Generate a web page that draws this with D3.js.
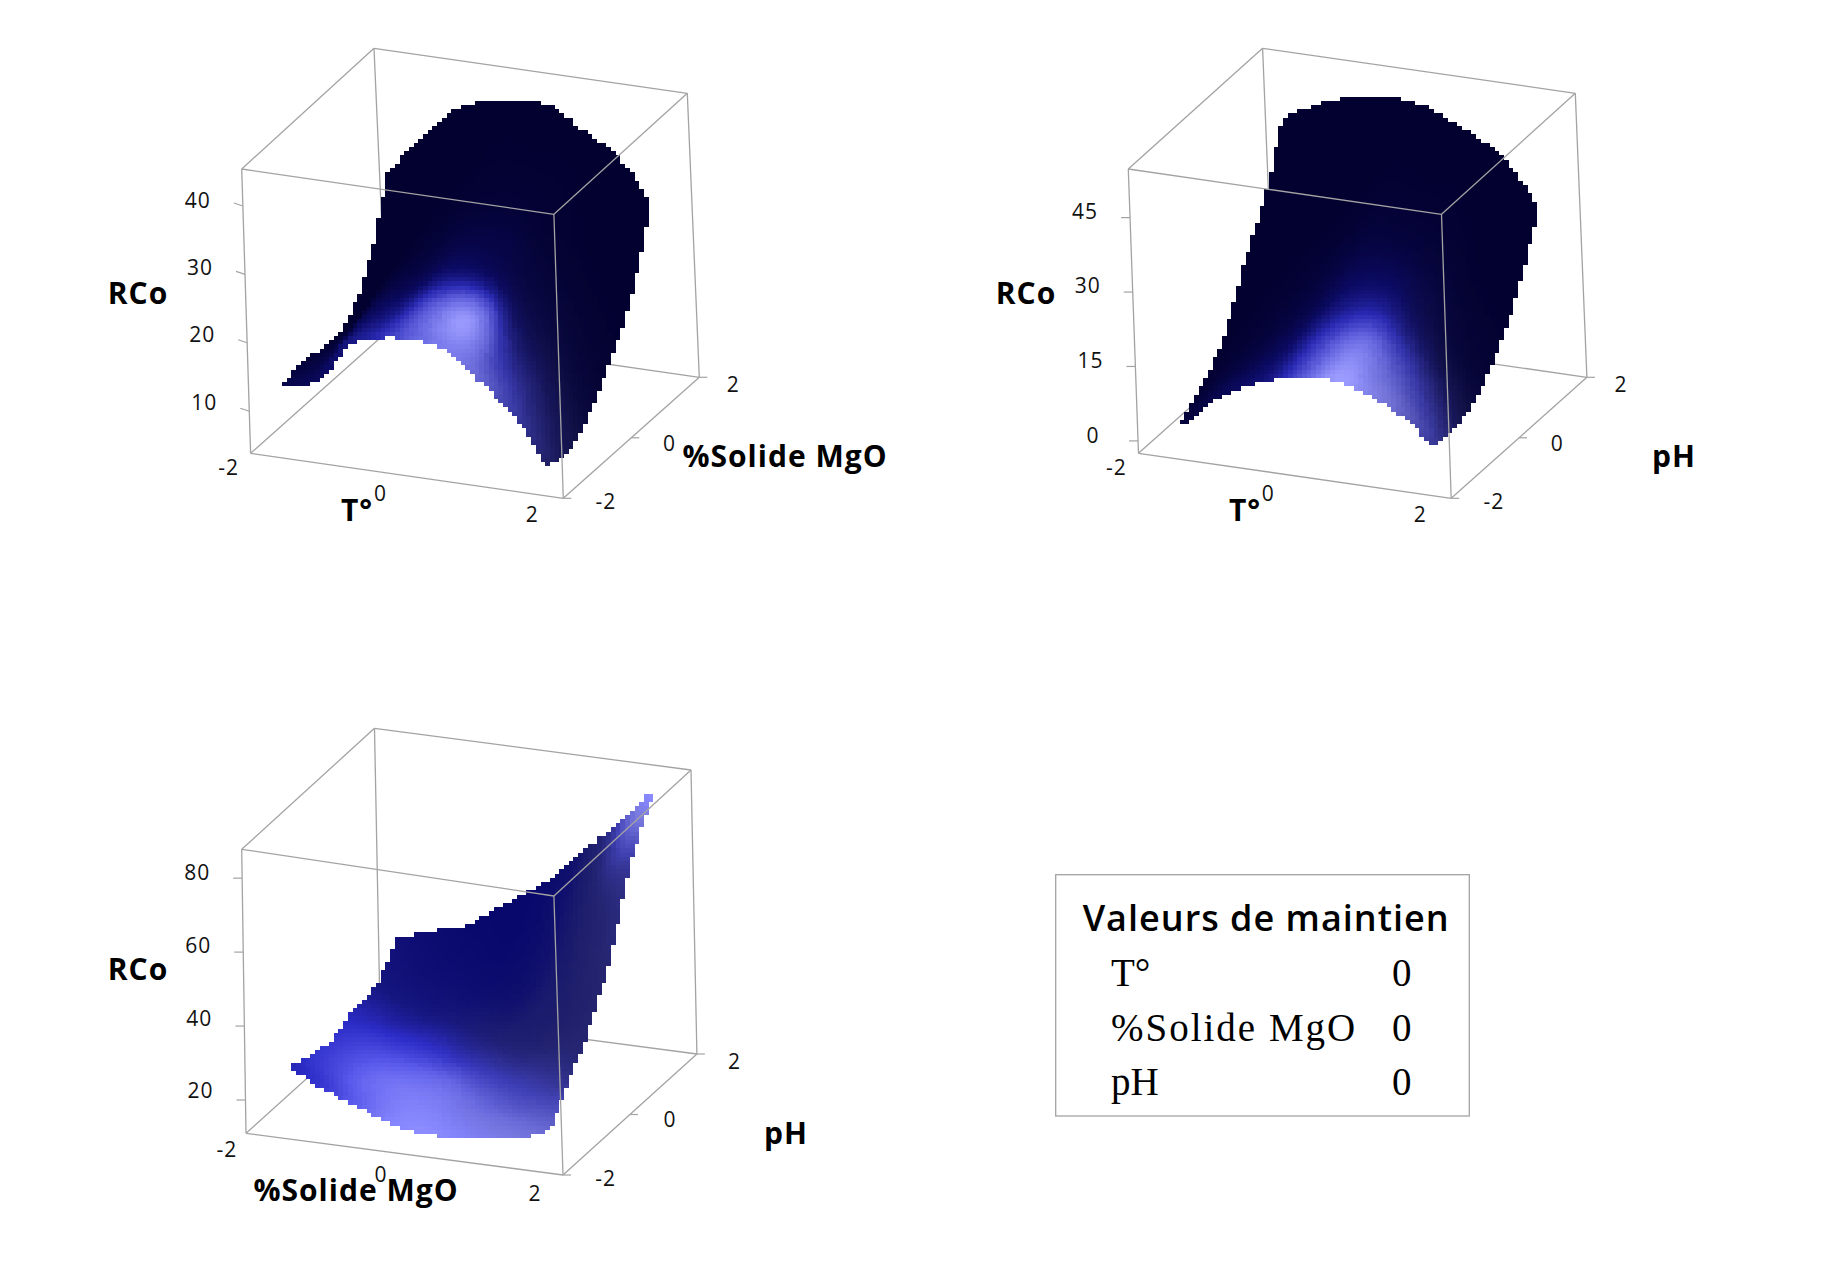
<!DOCTYPE html>
<html><head><meta charset="utf-8">
<style>html,body{margin:0;padding:0;background:#fff;overflow:hidden}svg{display:block}</style>
<script src="https://cdn.jsdelivr.net/npm/d3@7"></script></head>
<body><svg id="c" width="1837" height="1278"></svg>
<script>
// ---------- data ----------
const solideGrid = [-2,-1.36,-0.72,-0.08,0.56,1.2];
const phGrid = [-2,-1.36,-0.72,-0.08,0.56,1.2];
const tempGridA = [-1.52,-1.12,-0.68,-0.28,0.12,0.56,0.96,1.4,1.8];
const tempGridB = [-1.4,-1,-0.6,-0.2,0.2,0.6,1,1.4,1.8];
const solideGridB = [-1.4,-1,-0.6,-0.2,0.2,0.6,1,1.4,1.82];

const rcoTempSolide = [
 [14.65,16.2,22.2,23.8,24.2,23.4,19.8,15.4,8.6],
 [15.2,18,23.4,24.6,25.5,24.6,20.9,15.9,8],
 [14.65,18.8,25.5,27.1,28,27.1,23.8,18.4,11.1],
 [15.7,21.3,28.8,31.3,32.5,31.7,28.4,23,15.9],
 [20.9,28,34.6,37.1,37.9,37.5,34.2,29.6,22.1],
 [30.9,36.5,41.4,43.7,44.6,44.5,41.7,38.5,32.5]];
const shadeTempSolide = [
 [.08,.12,.22,.35,.6,.8,.6,.35,.2],
 [.02,.05,.12,.25,.6,.95,.36,.2,.12],
 [0,.01,.03,.08,.18,.2,.11,.07,.04],
 [0,0,0,.02,.04,.05,.03,.02,.01],
 [0,0,0,0,.01,.01,.01,0,0],
 [0,0,0,0,0,0,0,0,0]];
const rcoTempPh = [
 [5.06,11,14.5,16.8,17.7,18.4,16.4,13.4,8.3],
 [8.96,14.1,17.5,19.7,20.4,20.4,18,14,8.1],
 [14.2,19.2,22,24.1,24.9,24.4,21.2,17.1,11],
 [24.7,27.7,30,31.8,32.1,30.7,27.4,22.7,16.1],
 [33.3,36.7,39.1,40.5,41,39.4,36.4,32,24.4],
 [46.4,49.9,52.4,53.3,53.7,51.7,48.6,44.5,36.1]];
const shadeTempPh = [
 [.03,.08,.15,.25,.6,1,.8,.55,.32],
 [.01,.03,.07,.18,.5,.78,.52,.3,.15],
 [0,.01,.03,.08,.22,.28,.18,.08,.04],
 [0,0,.005,.02,.06,.07,.05,.02,.01],
 [0,0,0,0,.01,.01,.01,0,0],
 [0,0,0,0,0,0,0,0,0]];
const rcoSolidePh = [
 [31,26.4,23.1,19.7,18.1,17.7,18.4,19.7,23.3],
 [28.3,25.2,23.7,22.9,22.5,22.5,24.1,27.1,31.7],
 [27.5,25.6,26,27.1,27.7,29.4,31.7,36.3,41.7],
 [30.2,28.7,30.2,32.5,34.3,37.1,41,47.9,54.8],
 [31.4,32.5,35.6,39.4,43.2,48.6,54.8,64,74.7],
 [38.6,41.7,43.9,49.4,55,61.2,69.4,77.7,87]];
const shadeSolidePh = [
 [.3,.42,.62,.9,1,.95,.82,.7,.55],
 [.4,.55,.75,.82,.78,.6,.45,.33,.22],
 [.4,.5,.48,.4,.3,.21,.15,.12,.13],
 [.28,.25,.18,.12,.08,.05,.08,.1,.16],
 [.15,.1,.06,.03,.01,.02,.06,.14,.3],
 [.08,.04,.01,0,0,.02,.08,.3,1]];
const paleColumnsA = [1,1,1,1,1,1,.88,.78,.72];
const paleColumnsC = [1,1,1,.97,.9,.82,.78,.75,.72];
const axisTicksXY = [-2,0,2];
const rcoTicksA = [10,20,30,40];
const rcoTicksB = [0,15,30,45];
const rcoTicksC = [20,40,60,80];
const heldNames = ["T°","%Solide MgO","pH"];
const heldValues = [0,0,0];

// ---------- layout ----------
const stopsA = ["#03012f","#0b0a62","#2a2ab4","#5f5fdc","#9c9cff"];
const stopsC = ["#08086c","#161680","#2c2cc8","#5a5aec","#8c8cff"];
const panels = [
 {xs:tempGridA,ys:solideGrid,zs:rcoTempSolide,sh:shadeTempSolide,pale:paleColumnsA,zDom:[3.85,45.4],zTicks:rcoTicksA,stops:stopsA,
  TB:[374,48.3],TR:[687.3,93.3],TL:[241.7,169],TF:[553.9,214.3],BL:[250.6,453.3],BF:[563.3,498.3],BR:[699.3,377.3],BB:[386.6,332.3],
  xTitle:"T°",xTitlePos:[357,510],yTitle:"%Solide MgO",yTitlePos:[785,456],rcoPos:[138,293],zTickDy:-3,zLab:[-10,-5],xLabShift:[0,0],yLabDx:[42.6,34]},
 {xs:tempGridB,ys:phGrid,zs:rcoTempPh,sh:shadeTempPh,pale:paleColumnsA,zDom:[-2.5,54.8],zTicks:rcoTicksB,stops:stopsA,
  TB:[1262.6,48.3],TR:[1575.3,93.3],TL:[1128.3,169],TF:[1441.5,214.3],BL:[1138.5,453.3],BF:[1451.2,498.3],BR:[1586.9,377.3],BB:[1274.2,332.3],
  xTitle:"T°",xTitlePos:[1245,510],yTitle:"pH",yTitlePos:[1674,456],rcoPos:[1026,293],zTickDy:0,zLab:[-5,-7],xLabShift:[0,0],yLabDx:[42.6,34]},
 {xs:solideGridB,ys:phGrid,zs:rcoSolidePh,sh:shadeSolidePh,pale:paleColumnsC,zDom:[11,87.8],zTicks:rcoTicksC,stops:stopsC,
  TB:[374.5,728.3],TR:[691,770],TL:[241.7,849.3],TF:[553.9,896],BL:[246,1133.3],BF:[563,1175],BR:[696.9,1054],BB:[380,1012.3],
  xTitle:"%Solide MgO",xTitlePos:[356,1190],yTitle:"pH",yTitlePos:[786,1133],rcoPos:[138,969],zTickDy:0,zLab:[-10,-5],xLabShift:[3,2],yLabDx:[42.6,37.5]}
];
const blockW = 4.7, blockH = 4.2;
const lineColor = "#a3a3a3";
const tickFont = "'Open Sans',sans-serif";

const svg = d3.select("#c");

function catmull(a,b,c,d,t){
  return 0.5*((2*b)+(-a+c)*t+(2*a-5*b+4*c-d)*t*t+(-a+3*b-3*c+d)*t*t*t);
}
function sampleAxis(arr,p){
  const n=arr.length-1, i=Math.min(Math.floor(p),n-1), t=p-i;
  return catmull(arr[Math.max(i-1,0)],arr[i],arr[i+1],arr[Math.min(i+2,n)],t);
}
function sampleGrid(g,pr,pc){
  return sampleAxis(g.map(r=>sampleAxis(r,pc)),pr);
}
const paleWeight=d3.scaleLinear([0,.1,.7,.95],[0,1,1,0]).clamp(true);

panels.forEach(p=>{
  const ux=d3.scaleLinear([-2,2],[0,1]), uy=d3.scaleLinear([-2,2],[0,1]), uz=d3.scaleLinear(p.zDom,[0,1]);
  const project=(x,y,z)=>{
    const u=ux(x),v=uy(y),w=uz(z);
    return [0,1].map(k=>{
      const b=(p.BL[k]*(1-u)+p.BF[k]*u)*(1-v)+(p.BB[k]*(1-u)+p.BR[k]*u)*v;
      const t=(p.TL[k]*(1-u)+p.TF[k]*u)*(1-v)+(p.TB[k]*(1-u)+p.TR[k]*u)*v;
      return b*(1-w)+t*w;
    });
  };
  const g=svg.append("g");
  const seg=(a,b)=>({a,b});
  const [x0,x1]=[-2,2],[y0,y1]=[-2,2],[z0,z1]=p.zDom;
  const back=[
    seg([x0,y1,z0],[x1,y1,z0]),seg([x0,y0,z0],[x0,y1,z0]),seg([x0,y1,z0],[x0,y1,z1]),
    seg([x0,y1,z1],[x1,y1,z1]),seg([x0,y0,z1],[x0,y1,z1]),seg([x1,y1,z0],[x1,y1,z1]),
    seg([x0,y0,z0],[x1,y0,z0]),seg([x1,y0,z0],[x1,y1,z0]),seg([x0,y0,z0],[x0,y0,z1])
  ];
  const front=[seg([x0,y0,z1],[x1,y0,z1]),seg([x1,y0,z1],[x1,y1,z1]),seg([x1,y0,z0],[x1,y0,z1])];
  const drawSeg=(sel,data)=>sel.selectAll(null).data(data).join("line")
    .attr("x1",d=>project(...d.a)[0]).attr("y1",d=>project(...d.a)[1])
    .attr("x2",d=>project(...d.b)[0]).attr("y2",d=>project(...d.b)[1])
    .attr("stroke",lineColor).attr("stroke-width",1.3);
  drawSeg(g.append("g"),back);

  // surface: painted back to front into a coarse screen raster
  const ramp=d3.scaleLinear().domain([0,.15,.35,.6,1]).range(p.stops).clamp(true);
  const colour=(s,k)=>{
    const c=d3.hsl(ramp(s));
    c.s*=1-(1-k)*paleWeight(s);
    return c.formatHex();
  };
  const nr=p.zs.length-1,nc=p.xs.length-1;
  const blocks=new Map();
  const NR=150,NC=170;
  for(let ir=NR;ir>=0;ir--){
    const pr=ir/NR*nr;
    const yv=sampleAxis(p.ys,pr);
    for(let ic=0;ic<=NC;ic++){
      const pc=ic/NC*nc;
      const xv=sampleAxis(p.xs,pc);
      const z=sampleGrid(p.zs,pr,pc);
      const s=sampleGrid(p.sh,pr,pc);
      const k=sampleAxis(p.pale,pc);
      const q=project(xv,yv,z);
      const bx=Math.floor(q[0]/blockW),by=Math.floor(q[1]/blockH);
      blocks.set(bx+"_"+by,{bx,by,s,k});
    }
  }
  g.append("g").attr("shape-rendering","crispEdges").selectAll("rect").data([...blocks.values()]).join("rect")
    .attr("x",d=>Math.round(d.bx*blockW)).attr("y",d=>Math.round(d.by*blockH))
    .attr("width",d=>Math.round((d.bx+1)*blockW)-Math.round(d.bx*blockW))
    .attr("height",d=>Math.round((d.by+1)*blockH)-Math.round(d.by*blockH))
    .attr("fill",d=>colour(d.s,d.k));
  drawSeg(g.append("g"),front);

  // RCo ticks and labels
  const zt=g.append("g");
  const tickText=(x,y,t)=>zt.append("text").attr("x",x).attr("y",y).attr("dy",".36em").attr("text-anchor","middle")
      .attr("font-family",tickFont).attr("font-size",21).attr("letter-spacing",1).attr("fill","#111").text(t);
  const zLab=d3.scaleLinear(p.zDom,p.zLab);
  p.zTicks.forEach(t=>{
    const q=project(x0,y0,t);
    zt.append("line").attr("x1",q[0]).attr("y1",q[1]).attr("x2",q[0]-9).attr("y2",q[1]+p.zTickDy)
      .attr("stroke",lineColor).attr("stroke-width",1.2);
    tickText(q[0]-45,q[1]+zLab(t),t);
  });
  const offX=d3.scaleLinear([-2,2],[-22,-31]), offXy=d3.scaleLinear([-2,0,2],[14,18,16]);
  const offY=d3.scaleLinear([-2,2],p.yLabDx), offYy=d3.scaleLinear([-2,2],[3.5,7]);
  axisTicksXY.forEach(t=>{
    const q=project(t,y0,z0);
    tickText(q[0]+offX(t)+p.xLabShift[0],q[1]+offXy(t)+p.xLabShift[1],t);
    const r=project(x1,t,z0);
    zt.append("line").attr("x1",r[0]).attr("y1",r[1]).attr("x2",r[0]+8).attr("y2",r[1])
      .attr("stroke",lineColor).attr("stroke-width",1.2);
    tickText(r[0]+offY(t),r[1]+offYy(t),t);
  });
  // titles
  const title=(txt,pos)=>g.append("text").attr("x",pos[0]).attr("y",pos[1]).attr("dy",".36em").attr("text-anchor","middle")
    .attr("font-family",tickFont).attr("font-weight",700).attr("font-size",30).attr("letter-spacing",1).attr("fill","#000").text(txt);
  title("RCo",p.rcoPos);title(p.xTitle,p.xTitlePos);title(p.yTitle,p.yTitlePos);
});

// held values box
const lg=svg.append("g");
lg.append("rect").attr("x",1055.7).attr("y",874.7).attr("width",413.6).attr("height",241.3)
  .attr("fill","none").attr("stroke",lineColor).attr("stroke-width",1.3);
lg.append("text").attr("x",1082.7).attr("y",930.7).attr("font-family","'Open Sans',sans-serif").attr("font-weight",600)
  .attr("font-size",36).attr("letter-spacing",1).attr("fill","#000").text("Valeurs de maintien");
const rowY=d3.scalePoint().domain(heldNames).range([986,1095]);
lg.selectAll("text.n").data(heldNames).join("text").attr("class","n").attr("x",1111).attr("y",d=>rowY(d))
  .attr("font-family","'Liberation Serif',serif").attr("font-size",39).attr("letter-spacing",d=>d.length>4?2:0).attr("fill","#000").text(d=>d);
lg.selectAll("text.v").data(heldValues).join("text").attr("class","v").attr("x",1392).attr("y",(d,i)=>rowY(heldNames[i]))
  .attr("font-family","'Liberation Serif',serif").attr("font-size",39).attr("fill","#000").text(d=>d);
</script></body></html>
